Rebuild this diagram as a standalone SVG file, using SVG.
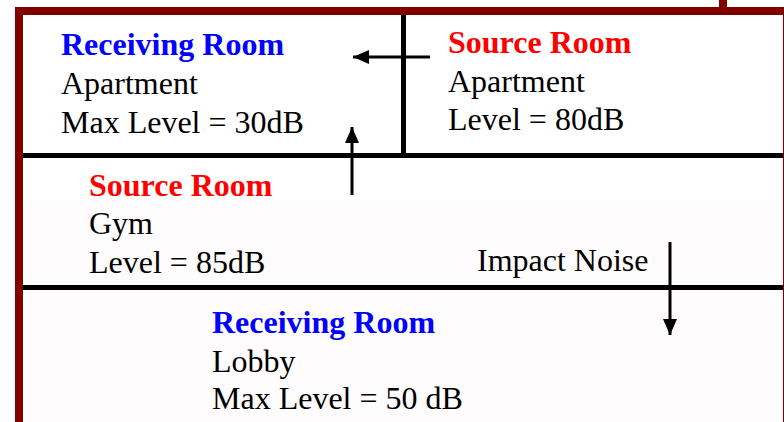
<svg xmlns="http://www.w3.org/2000/svg" width="784" height="422" viewBox="0 0 784 422">
<style>
.t{font-family:"Liberation Serif","Times New Roman",serif;font-size:32px;fill:#000}
.h{font-weight:bold}
.red{fill:#ff0000}
.blue{fill:#0000ff}
.wall{stroke:#000;stroke-width:5;fill:none}
.frame{stroke:#800000;stroke-width:8;fill:none}
.arr{stroke:#000;stroke-width:3;fill:none;marker-end:url(#ah)}
</style>
<defs>
<marker id="ah" markerUnits="userSpaceOnUse" markerWidth="16" markerHeight="14" viewBox="0 0 16 14" refX="16" refY="7" orient="auto">
<path d="M0,0 L16,7 L0,14 z" fill="#000"/>
</marker>
</defs>
<rect width="784" height="422" fill="#fff"/>
<rect x="23" y="200" width="760" height="222" fill="#fefcfd"/>
<g id="building">
<line class="frame" x1="723" y1="0" x2="723" y2="11"/>
<rect class="frame" x="19" y="11" width="768" height="420"/>
<line class="wall" x1="23" y1="155.5" x2="783" y2="155.5"/>
<line class="wall" x1="403.5" y1="15" x2="403.5" y2="158"/>
<line class="wall" x1="23" y1="287.5" x2="783" y2="287.5"/>
</g>
<g id="receiving-apartment">
<text class="t h blue" x="61" y="55">Receiving Room</text>
<text class="t" x="61" y="94">Apartment</text>
<text class="t" x="61" y="133">Max Level = 30dB</text>
</g>
<g id="source-apartment">
<text class="t h red" x="448" y="53">Source Room</text>
<text class="t" x="448" y="92">Apartment</text>
<text class="t" x="448" y="130">Level = 80dB</text>
</g>
<g id="source-gym">
<text class="t h red" x="89" y="196">Source Room</text>
<text class="t" x="89" y="234">Gym</text>
<text class="t" x="89" y="273">Level = 85dB</text>
</g>
<g id="impact-label">
<text class="t" x="477" y="271">Impact Noise</text>
</g>
<g id="receiving-lobby">
<text class="t h blue" x="212" y="333">Receiving Room</text>
<text class="t" x="212" y="372">Lobby</text>
<text class="t" x="212" y="409">Max Level = 50 dB</text>
</g>
<g id="connectors">
<line class="arr" x1="430" y1="57" x2="353" y2="57"/>
<line class="arr" x1="352" y1="195" x2="352" y2="127"/>
<line class="arr" x1="670" y1="242" x2="670" y2="335"/>
</g>
</svg>
